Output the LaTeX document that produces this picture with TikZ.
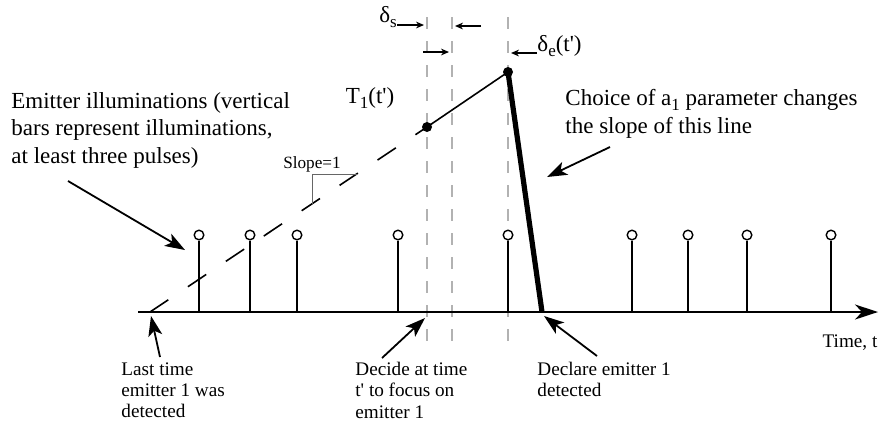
\documentclass[tikz,border=0pt]{standalone}
\usepackage{fontspec}
\setmainfont{Liberation Serif}[Ligatures=TeXOff]
\usetikzlibrary{arrows.meta,calc}
\newcommand{\lsub}[1]{\raisebox{-0.5ex}{\fontsize{8.5}{9}\selectfont #1}}
\tikzset{
  pulse/.style={circle,draw,fill=white,minimum size=4.8pt,inner sep=0pt,line width=0.7pt},
  stem/.style={line width=0.8pt},
  dot/.style={circle,fill=black,minimum size=5pt,inner sep=0pt},
  guide/.style={draw=black!30,line width=0.6pt,dash pattern=on 6pt off 6pt},
  ann/.style={line width=0.9pt,-{Stealth[length=10pt,width=7pt,inset=2.5pt]}},
  darr/.style={line width=0.6pt,-{Stealth[length=4pt,width=3.4pt]}},
  big/.style={font=\fontsize{11.5}{13.7}\selectfont,inner sep=0pt,align=left},
  small/.style={font=\fontsize{9.6}{10.6}\selectfont,inner sep=0pt,align=left},
}
\begin{document}
\begin{tikzpicture}[x=0.5pt,y=-0.5pt]
\useasboundingbox (0,0) rectangle (886,425);
% guide lines
\coordinate (g1t) at (427,17); \coordinate (g1b) at (427,347);
\coordinate (g2t) at (452,17); \coordinate (g2b) at (452,347);
\coordinate (g3t) at (508,17); \coordinate (g3b) at (508,347);
\draw[guide] (g1t) -- (g1b);
\draw[guide] (g2t) -- (g2b);
\draw[guide] (g3t) -- (g3b);
% axis
\coordinate (ax0) at (138,312);
\coordinate (ax1) at (878,312);
\draw[line width=1pt,-{Stealth[length=11.5pt,width=7.5pt,inset=3.5pt]}] (ax0) -- (ax1);
% pulses
\foreach \n/\x in {1/199,2/250,3/297,4/398,5/508,6/632,7/688,8/747,9/831}{
  \node[pulse] (p\n) at (\x,235) {};
  \draw[stem] (p\n.south) -- (p\n.south |- ax0);
}
% detection curve
\coordinate (last) at (150,312);
\node[dot] (T1) at (427,127) {};
\node[dot] (pk) at (508,72) {};
\coordinate (det) at (542,312);
\draw[line width=0.8pt,dash pattern=on 11pt off 11.8pt] (last) -- (T1.center);
\draw[line width=0.8pt] (T1.center) -- (pk.center);
\draw[line width=2.6pt] (pk.center) -- (det);
% slope marker
\coordinate (s0) at (312,203.8);
\coordinate (s1) at (312,174);
\coordinate (s2) at (356.6,174);
\draw[black!60,line width=0.5pt] (s0) -- (s1) -- (s2);
\node[font=\fontsize{8.6}{9}\selectfont,inner sep=0pt] (slope) at (312,164) {Slope=1};
% labels
\node[font=\fontsize{11.5}{12}\selectfont,inner sep=0pt] (T1lab) at (370,98) {T\lsub{1}(t')};
\node[font=\fontsize{11.5}{12}\selectfont,inner sep=0pt] (dslab) at (388,17) {δ\lsub{s}};
\node[font=\fontsize{11.5}{12}\selectfont,inner sep=0pt,anchor=west] (delab) at (537,46) {δ\lsub{e}(t')};
% delta arrows
\coordinate (a1s) at (397,25); \coordinate (a1e) at (424,25);
\coordinate (a2s) at (481,26); \coordinate (a2e) at (455,26);
\coordinate (a3s) at (423,52); \coordinate (a3e) at (449,52);
\coordinate (a4s) at (537,53); \coordinate (a4e) at (511,53);
\draw[darr] (a1s) -- (a1e);
\draw[darr] (a2s) -- (a2e);
\draw[darr] (a3s) -- (a3e);
\draw[darr] (a4s) -- (a4e);
% texts
\node[big,anchor=north west] (emit) at (11,92) {Emitter illuminations (vertical\\bars represent illuminations,\\at least three pulses)};
\node[big,anchor=north west] (choice) at (565,89) {Choice of a\lsub{1} parameter changes\\the slope of this line};
\node[small,anchor=north west] (lastlab) at (121,362) {Last time\\emitter 1 was\\detected};
\node[small,anchor=north west] (decide) at (355,362) {Decide at time\\t' to focus on\\emitter 1};
\node[small,anchor=north west] (declare) at (537,362) {Declare emitter 1\\detected};
\node[small] (time) at (850,343) {Time, t};
% annotation arrows
\coordinate (e0) at (68,181); \coordinate (e1) at (185,250);
\coordinate (c0) at (610,147); \coordinate (c1) at (547,177);
\coordinate (l0) at (160,357); \coordinate (l1) at (151,316);
\coordinate (d0) at (382,358); \coordinate (d1) at (425,318);
\coordinate (k0) at (597,356); \coordinate (k1) at (544,316);
\draw[ann] (e0) -- (e1);
\draw[ann] (c0) -- (c1);
\draw[ann] (l0) -- (l1);
\draw[ann] (d0) -- (d1);
\draw[ann] (k0) -- (k1);
\end{tikzpicture}
\end{document}
